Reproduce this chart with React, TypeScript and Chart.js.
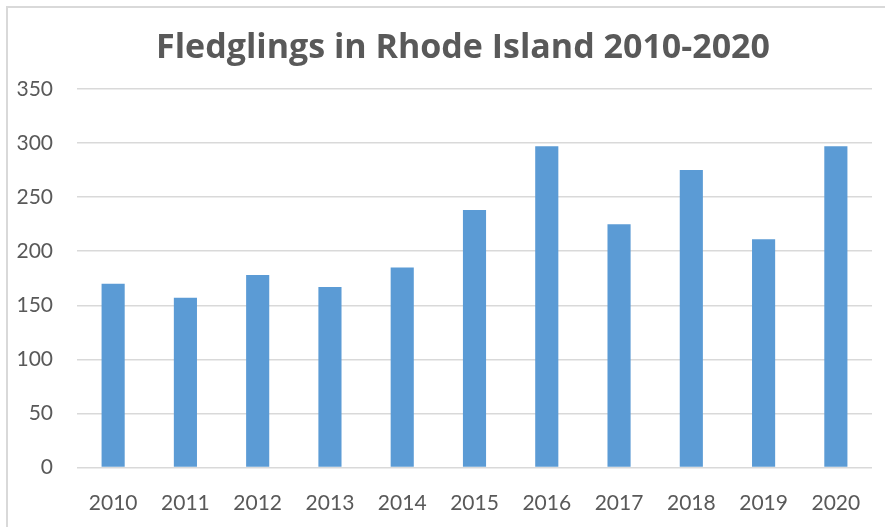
import React, { useEffect, useRef } from "react";
import { Chart, registerables } from "chart.js";

Chart.register(...registerables);

const chartTitle = "Fledglings in Rhode Island 2010-2020";
const years = ["2010", "2011", "2012", "2013", "2014", "2015", "2016", "2017", "2018", "2019", "2020"];
const fledglings = [170, 157, 178, 167, 185, 238, 297, 225, 275, 211, 297];
const yMin = 0;
const yMax = 350;
const yStep = 50;

const titlePlugin = {
  id: "customTitle",
  afterDraw(chart: any) {
    const ctx = chart.ctx;
    ctx.save();
    ctx.font = "bold 34px 'Open Sans'";
    ctx.fillStyle = "#595959";
    ctx.textAlign = "center";
    ctx.textBaseline = "alphabetic";
    ctx.fillText(chartTitle, 455, 50);
    ctx.restore();
  },
};

export default function App() {
  const canvasRef = useRef<HTMLCanvasElement | null>(null);

  useEffect(() => {
    document.body.style.overflow = "hidden";
    if (!canvasRef.current) return;
    const chart = new Chart(canvasRef.current, {
      type: "bar",
      data: {
        labels: years,
        datasets: [
          {
            label: "Fledglings",
            data: fledglings,
            backgroundColor: "#5b9bd5",
            borderWidth: 0,
            categoryPercentage: 1,
            barPercentage: 0.32,
          },
        ],
      },
      options: {
        animation: false,
        responsive: false,
        maintainAspectRatio: false,
        devicePixelRatio: 1,
        layout: { padding: { top: 81, left: 0, right: 13, bottom: 0 } },
        plugins: {
          legend: { display: false },
          title: { display: false },
          tooltip: { enabled: false },
        },
        scales: {
          x: {
            grid: { display: false, drawTicks: false },
            border: { display: false },
            ticks: {
              color: "#595959",
              font: { family: "Lato", size: 21 },
              padding: 23,
              maxRotation: 0,
            },
            afterFit(scale: any) {
              scale.height = 59.5;
            },
          },
          y: {
            min: yMin,
            max: yMax,
            grid: { color: "#d9d9d9", lineWidth: 1.5, drawTicks: false },
            border: { display: false },
            ticks: {
              stepSize: yStep,
              color: "#595959",
              font: { family: "Lato", size: 21 },
              padding: 24,
            },
            afterFit(scale: any) {
              scale.width = 69;
            },
          },
        },
      },
      plugins: [titlePlugin],
    });
    return () => chart.destroy();
  }, []);

  return (
    <div
      style={{
        position: "absolute",
        left: 6,
        top: 6,
        width: 879,
        height: 521,
        borderTop: "2px solid #d9d9d9",
        borderLeft: "2px solid #d9d9d9",
        boxSizing: "border-box",
        background: "#ffffff",
      }}
    >
      <canvas ref={canvasRef} width={877} height={519} style={{ display: "block", width: 877, height: 519 }} />
    </div>
  );
}
